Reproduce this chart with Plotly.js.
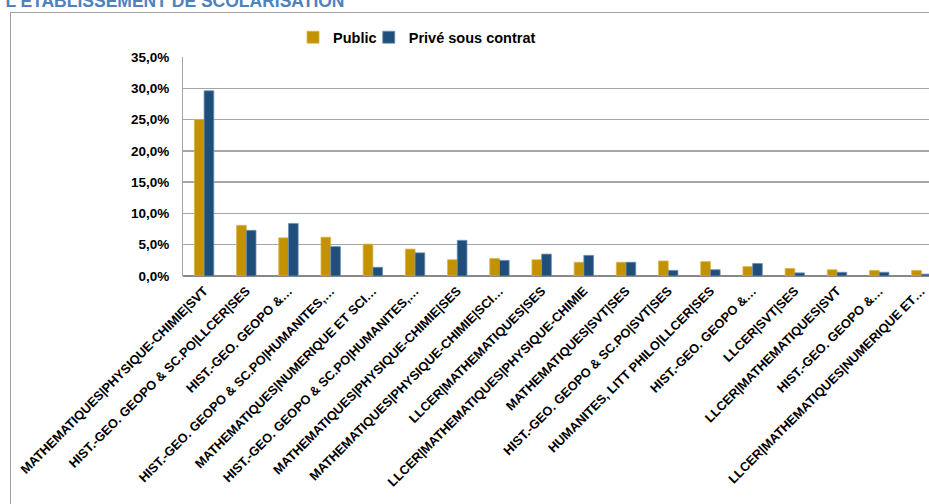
<!DOCTYPE html>
<html>
<head>
<meta charset="utf-8">
<script src="https://cdn.plot.ly/plotly-3.0.1.min.js"></script>
<style>
html,body{margin:0;padding:0;overflow:hidden;background:#fff;}
#frame{position:absolute;left:10px;top:12px;width:940px;height:520px;border-left:1px solid #a0a0a0;border-top:1px solid #a0a0a0;}
#chart{position:absolute;left:0;top:0;width:929px;height:504px;}
</style>
</head>
<body>
<div id="frame"></div>
<div id="chart"></div>
<script>
const categories = [
  "MATHEMATIQUES|PHYSIQUE-CHIMIE|SVT",
  "HIST.-GEO. GEOPO & SC.PO|LLCER|SES",
  "HIST.-GEO. GEOPO &…",
  "HIST.-GEO. GEOPO & SC.PO|HUMANITES,…",
  "MATHEMATIQUES|NUMERIQUE ET SCI…",
  "HIST.-GEO. GEOPO & SC.PO|HUMANITES,…",
  "MATHEMATIQUES|PHYSIQUE-CHIMIE|SES",
  "MATHEMATIQUES|PHYSIQUE-CHIMIE|SCI…",
  "LLCER|MATHEMATIQUES|SES",
  "LLCER|MATHEMATIQUES|PHYSIQUE-CHIMIE",
  "MATHEMATIQUES|SVT|SES",
  "HIST.-GEO. GEOPO & SC.PO|SVT|SES",
  "HUMANITES, LITT PHILO|LLCER|SES",
  "HIST.-GEO. GEOPO &…",
  "LLCER|SVT|SES",
  "LLCER|MATHEMATIQUES|SVT",
  "HIST.-GEO. GEOPO &…",
  "LLCER|MATHEMATIQUES|NUMERIQUE ET…"
];
const publicValues = [25.0, 8.1, 6.1, 6.2, 5.1, 4.3, 2.6, 2.8, 2.6, 2.2, 2.2, 2.4, 2.3, 1.5, 1.2, 1.0, 0.9, 0.9];
const priveValues  = [29.6, 7.3, 8.4, 4.7, 1.4, 3.7, 5.7, 2.5, 3.5, 3.3, 2.2, 0.9, 1.0, 2.0, 0.5, 0.6, 0.6, 0.3];
const yTicks = [0, 5, 10, 15, 20, 25, 30, 35];

const idx = categories.map((c, i) => i);

const traces = [
  {type: 'bar', name: '<b>Public</b>', x: idx, y: publicValues, legend: 'legend',
   marker: {color: '#C29200', line: {color: '#d9b64a', width: 0.8}}},
  {type: 'bar', name: '<b>Privé sous contrat</b>', x: idx, y: priveValues, legend: 'legend2',
   marker: {color: '#1F4E7A', line: {color: '#6d8fb3', width: 0.8}}}
];

const legendCommon = {orientation: 'h', xanchor: 'left', yanchor: 'middle', y: 1.09,
  font: {size: 14.5, color: '#000'}, itemwidth: 30, bgcolor: 'rgba(0,0,0,0)',
  borderwidth: 0};

const layout = {
  width: 929, height: 504,
  margin: {l: 183, r: 0, t: 57, b: 228, pad: 0},
  paper_bgcolor: 'rgba(0,0,0,0)',
  plot_bgcolor: 'rgba(0,0,0,0)',
  separators: ', ',
  font: {family: 'Liberation Sans, Arial, sans-serif', color: '#000'},
  title: {text: "<b>L'ÉTABLISSEMENT DE SCOLARISATION</b>", x: 0.006, xref: 'container', xanchor: 'left',
          y: 0.998, yref: 'container', yanchor: 'middle',
          font: {size: 17.5, color: '#4F81BD', family: 'Liberation Sans, Arial, sans-serif'}},
  barmode: 'group', bargap: 0.54, bargroupgap: 0,
  showlegend: true,
  legend: Object.assign({}, legendCommon, {x: 0.1475}),
  legend2: Object.assign({}, legendCommon, {x: 0.249}),
  xaxis: {
    range: [-0.5, 17.18], tickmode: 'array', tickvals: idx,
    ticktext: categories.map(c => '<b>' + c + '</b>'),
    tickangle: -45, tickfont: {size: 12.8, color: '#000'}, ticklabelstandoff: 4,
    showgrid: false, zeroline: false, showline: false, ticks: '', fixedrange: true
  },
  yaxis: {
    range: [0, 35], tickmode: 'array', tickvals: yTicks,
    ticktext: yTicks.map(v => '<b>' + v.toFixed(1).replace('.', ',') + '%</b>'),
    tickfont: {size: 13.5, color: '#000'}, ticklabelstandoff: 10,
    showgrid: true, gridcolor: '#a6a6a6', gridwidth: 1.3,
    zeroline: true, zerolinecolor: '#888', zerolinewidth: 1.5,
    showline: true, linecolor: '#a6a6a6', linewidth: 1, ticks: '', fixedrange: true
  }
};

Plotly.newPlot('chart', traces, layout, {displayModeBar: false, staticPlot: true});
</script>
</body>
</html>
